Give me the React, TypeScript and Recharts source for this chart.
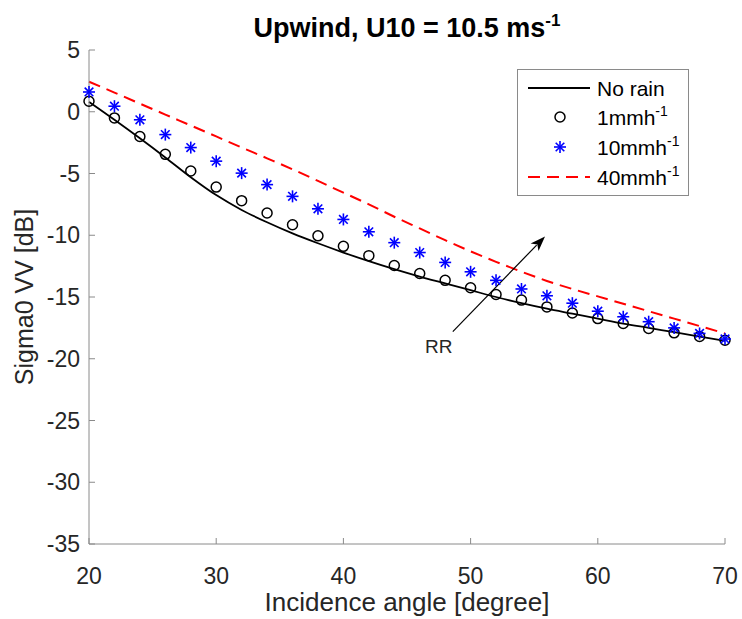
import React from 'react';
import { ComposedChart, Line, XAxis, YAxis, Legend, ReferenceLine } from 'recharts';

// Incidence angle [degree]
const angles = [20, 22, 24, 26, 28, 30, 32, 34, 36, 38, 40, 42, 44, 46, 48, 50, 52, 54, 56, 58, 60, 62, 64, 66, 68, 70];
// Sigma0 VV [dB]
const noRain = [0.8, -0.65, -2.15, -3.7, -5.3, -6.75, -7.95, -8.95, -9.85, -10.65, -11.4, -12.1, -12.75, -13.35, -13.9, -14.45, -15.0, -15.5, -15.95, -16.35, -16.75, -17.15, -17.5, -17.85, -18.2, -18.55];
const rain1 = [0.85, -0.5, -2.0, -3.45, -4.8, -6.1, -7.2, -8.2, -9.15, -10.05, -10.9, -11.65, -12.45, -13.1, -13.65, -14.25, -14.8, -15.25, -15.8, -16.3, -16.75, -17.15, -17.55, -17.9, -18.2, -18.5];
const rain10 = [1.6, 0.45, -0.65, -1.85, -2.9, -4.0, -4.97, -5.9, -6.85, -7.86, -8.72, -9.72, -10.6, -11.4, -12.2, -12.96, -13.65, -14.35, -14.9, -15.5, -16.15, -16.6, -17.0, -17.5, -17.95, -18.4];
const rain40 = [2.43, 1.55, 0.66, -0.23, -1.11, -2.0, -2.89, -3.77, -4.66, -5.6, -6.55, -7.5, -8.5, -9.45, -10.4, -11.3, -12.15, -12.95, -13.7, -14.35, -14.95, -15.55, -16.15, -16.75, -17.35, -17.95];

const xTicks = [20, 30, 40, 50, 60, 70];
const yTicks = [5, 0, -5, -10, -15, -20, -25, -30, -35];
const arrowSegment = [{ x: 48.6, y: -17.8 }, { x: 55.85, y: -10.1 }];

const data = angles.map((a, i) => ({ angle: a, noRain: noRain[i], r1: rain1[i], r10: rain10[i], r40: rain40[i] }));

const AXIS = '#8a8a8a';
const TXT = '#262626';
const FONT = '"Liberation Sans", Arial, Helvetica, sans-serif';

const CircleDot = (props: any) => {
  const { cx, cy, index } = props;
  if (cx == null || cy == null) return <g key={`c${index}`} />;
  return <circle key={`c${index}`} cx={cx} cy={cy} r={5} fill="none" stroke="#000" strokeWidth={1.5} />;
};

const StarShape = ({ cx, cy }: any) => {
  const r = 6;
  const d = 4.3;
  return (
    <g stroke="#0000ff" strokeWidth={1.6}>
      <line x1={cx - r} y1={cy} x2={cx + r} y2={cy} />
      <line x1={cx} y1={cy - r} x2={cx} y2={cy + r} />
      <line x1={cx - d} y1={cy - d} x2={cx + d} y2={cy + d} />
      <line x1={cx - d} y1={cy + d} x2={cx + d} y2={cy - d} />
    </g>
  );
};

const StarDot = (props: any) => {
  const { cx, cy, index } = props;
  if (cx == null || cy == null) return <g key={`s${index}`} />;
  return <StarShape key={`s${index}`} cx={cx} cy={cy} />;
};

const ArrowShape = (props: any) => {
  const { x1, y1, x2, y2 } = props;
  if ([x1, y1, x2, y2].some((v) => v == null || isNaN(v))) return null;
  const dx = x2 - x1;
  const dy = y2 - y1;
  const len = Math.sqrt(dx * dx + dy * dy);
  const ux = dx / len;
  const uy = dy / len;
  const hl = 15;
  const hw = 5.5;
  const bx = x2 - ux * hl;
  const by = y2 - uy * hl;
  const px = -uy;
  const py = ux;
  return (
    <g>
      <line x1={x1} y1={y1} x2={bx + ux * 3} y2={by + uy * 3} stroke="#000" strokeWidth={1.2} />
      <polygon
        points={`${x2},${y2} ${bx + px * hw},${by + py * hw} ${bx + ux * 4},${by + uy * 4} ${bx - px * hw},${by - py * hw}`}
        fill="#000"
      />
      <text x={x1 - 14} y={y1 + 21} textAnchor="middle" fontSize={19} fill={TXT} fontFamily={FONT}>RR</text>
    </g>
  );
};

const LegendContent = () => {
  const rows = [19, 48, 78, 108];
  const tx = 80;
  const fs = 21;
  const sup = (txt: string) => (
    <>
      {txt}
      <tspan dy={-9} fontSize={14}>-1</tspan>
    </>
  );
  return (
    <svg width={172} height={127} style={{ display: 'block', fontFamily: FONT }}>
      <rect x={0.5} y={0.5} width={171} height={126} fill="#fff" stroke={AXIS} strokeWidth={1} />
      <line x1={11} y1={rows[0]} x2={73} y2={rows[0]} stroke="#000" strokeWidth={1.8} />
      <text x={tx} y={rows[0] + 7.5} fontSize={fs} fill="#000">No rain</text>
      <circle cx={43} cy={rows[1]} r={5} fill="none" stroke="#000" strokeWidth={1.5} />
      <text x={tx} y={rows[1] + 7.5} fontSize={fs} fill="#000">{sup('1mmh')}</text>
      <StarShape cx={43} cy={rows[2]} />
      <text x={tx} y={rows[2] + 7.5} fontSize={fs} fill="#000">{sup('10mmh')}</text>
      <line x1={11} y1={rows[3]} x2={73} y2={rows[3]} stroke="#ff0000" strokeWidth={2} strokeDasharray="12 7" />
      <text x={tx} y={rows[3] + 7.5} fontSize={fs} fill="#000">{sup('40mmh')}</text>
    </svg>
  );
};

export default function App() {
  return (
    <div style={{ position: 'absolute', left: 0, top: 0, width: 742, height: 619, background: '#fff' }}>
      <ComposedChart
        width={742}
        height={619}
        data={data}
        margin={{ top: 50, right: 17, left: 0, bottom: 0 }}
        style={{ fontFamily: FONT }}
      >
        <XAxis
          dataKey="angle"
          type="number"
          domain={[20, 70]}
          ticks={xTicks}
          height={75}
          tickSize={-6}
          tickMargin={30}
          stroke={AXIS}
          tick={{ fill: TXT, fontSize: 23 }}
          label={{ value: 'Incidence angle [degree]', position: 'insideBottom', offset: 8, fill: TXT, fontSize: 26 }}
        />
        <XAxis
          xAxisId="top"
          dataKey="angle"
          type="number"
          orientation="top"
          domain={[20, 70]}
          ticks={xTicks}
          height={0}
          tickSize={-6}
          stroke={AXIS}
          tick={false}
        />
        <YAxis
          type="number"
          domain={[-35, 5]}
          ticks={yTicks}
          width={89}
          tickSize={-6}
          tickMargin={15}
          stroke={AXIS}
          tick={{ fill: TXT, fontSize: 23 }}
          label={{ value: 'Sigma0 VV [dB]', angle: -90, position: 'insideLeft', offset: 24, fill: TXT, fontSize: 25, style: { textAnchor: 'middle' } }}
        />
        <YAxis
          yAxisId="right"
          type="number"
          orientation="right"
          domain={[-35, 5]}
          ticks={yTicks}
          width={0}
          tickSize={-6}
          stroke={AXIS}
          tick={false}
        />
        <Line dataKey="noRain" type="monotone" stroke="#000" strokeWidth={1.8} dot={false} activeDot={false} isAnimationActive={false} />
        <Line dataKey="r1" stroke="none" dot={CircleDot} activeDot={false} isAnimationActive={false} />
        <Line dataKey="r10" stroke="none" dot={StarDot} activeDot={false} isAnimationActive={false} />
        <Line dataKey="r40" type="monotone" stroke="#ff0000" strokeWidth={2} strokeDasharray="12 7" dot={false} activeDot={false} isAnimationActive={false} />
        <ReferenceLine segment={arrowSegment} shape={ArrowShape} />
        <Legend
          layout="vertical"
          align="center"
          verticalAlign="middle"
          content={LegendContent}
          wrapperStyle={{ position: 'absolute', left: 517, top: 69, width: 172, height: 127 }}
        />
      </ComposedChart>
      <svg width={742} height={48} style={{ position: 'absolute', left: 0, top: 0, pointerEvents: 'none' }}>
        <text x={407} y={37} textAnchor="middle" fontSize={27} fontWeight="bold" fill="#000" fontFamily={FONT}>
          Upwind, U10 = 10.5 ms<tspan dy={-11} fontSize={17}>-1</tspan>
        </text>
      </svg>
    </div>
  );
}
